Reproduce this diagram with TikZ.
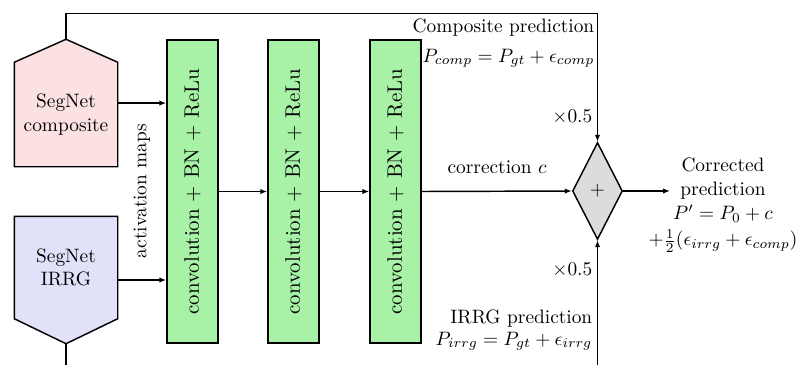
\documentclass[tikz,border=0pt]{standalone}
\usetikzlibrary{shapes.geometric,arrows.meta,calc}
\definecolor{compfill}{HTML}{FBE1E1}
\definecolor{irrgfill}{HTML}{E1E1FA}
\definecolor{convfill}{HTML}{A8F2A8}
\definecolor{sumfill}{HTML}{DCDCDC}
\def\pxu{0.516pt}
\newcommand{\convlabel}{\rotatebox{90}{\fontsize{10.8pt}{13pt}\selectfont convolution + BN + ReLu}}
\begin{document}
\begin{tikzpicture}[x=0.516pt,y=-0.516pt,line width=0.75pt,
  conn/.style={-{Latex[length=3.6pt,width=2.8pt]}},
  netbody/.style={rectangle,draw=none,minimum width=102*\pxu,minimum height=103*\pxu,align=center,inner sep=0pt},
  convbox/.style={rectangle,draw,fill=convfill,minimum width=51*\pxu,minimum height=303*\pxu,inner sep=0pt},
  sumnode/.style={diamond,draw,fill=sumfill,minimum width=50*\pxu,minimum height=97*\pxu,inner sep=0pt},
  lbl/.style={inner sep=0pt}]
\useasboundingbox (0,0) rectangle (796,365);
\coordinate (lowedge) at (0,365);

% SegNet branches: text bodies, outlines drawn from their anchors
\node[netbody] (comp) at (66,114.5) {};
\filldraw[fill=compfill] (comp.south west) -- (comp.north west) -- ($(comp.north)+(0,-23)$) coordinate (capex)
  -- (comp.north east) -- (comp.south east) -- cycle;
\node[netbody] at (comp.center) {SegNet\\composite};

\node[netbody,minimum height=101*\pxu] (irrg) at (66,267.5) {};
\filldraw[fill=irrgfill] (irrg.north west) -- (irrg.south west) -- ($(irrg.south)+(0,25)$) coordinate (iapex)
  -- (irrg.south east) -- (irrg.north east) -- cycle;
\node[netbody] at (irrg.center) {SegNet\\IRRG};

% convolution stages
\node[convbox] (b1) at (192.5,191.5) {\convlabel};
\node[convbox] (b2) at (293.5,191.5) {\convlabel};
\node[convbox] (b3) at (395.5,191.5) {\convlabel};

\node[lbl,rotate=90] (act) at (142,191) {activation maps};

% summation
\node[sumnode] (sum) at (597.5,191) {$+$};

% connectors
\coordinate (compout) at ([yshift=5.9pt]comp.east);
\coordinate (irrgout) at ([yshift=-6.45pt]irrg.east);
\coordinate (outend) at (670,191);
\draw[conn] (compout) -- (b1.west |- compout);
\draw[conn] (irrgout) -- (b1.west |- irrgout);
\draw[conn] (b1.east) -- (b2.west);
\draw[conn] (b2.east) -- (b3.west);
\draw[conn] (b3.east) -- (sum.west);
\draw[conn] (capex) -- ++(0,-26) -| (sum.north);
\draw[conn] (sum.south |- lowedge) -- (sum.south);
\draw (iapex) -- (iapex |- lowedge);
\draw[conn] (sum.east) -- (outend);

% labels
\node[lbl,anchor=base] (corr) at (497,173) {correction $c$};
\node[lbl,anchor=base east] (ctitle) at (595,32) {Composite prediction};
\node[lbl,anchor=base east] (cform) at (595,62) {$P_{comp} = P_{gt} + \epsilon_{comp}$};
\node[lbl,anchor=base east] (chalf) at (593,122) {$\times 0.5$};
\node[lbl,anchor=base east] (ihalf) at (593,275) {$\times 0.5$};
\node[lbl,anchor=base east] (ititle) at (593,323) {IRRG prediction};
\node[lbl,anchor=base east] (iform) at (593,345) {$P_{irrg} = P_{gt} + \epsilon_{irrg}$};
\node[lbl,align=center] (ptext) at (723,205) {Corrected\\[0.5pt]prediction\\[0.5pt]$P' = P_0 + c$\\[1.5pt]$+\frac{1}{2}(\epsilon_{irrg} + \epsilon_{comp})$};
\end{tikzpicture}
\end{document}
